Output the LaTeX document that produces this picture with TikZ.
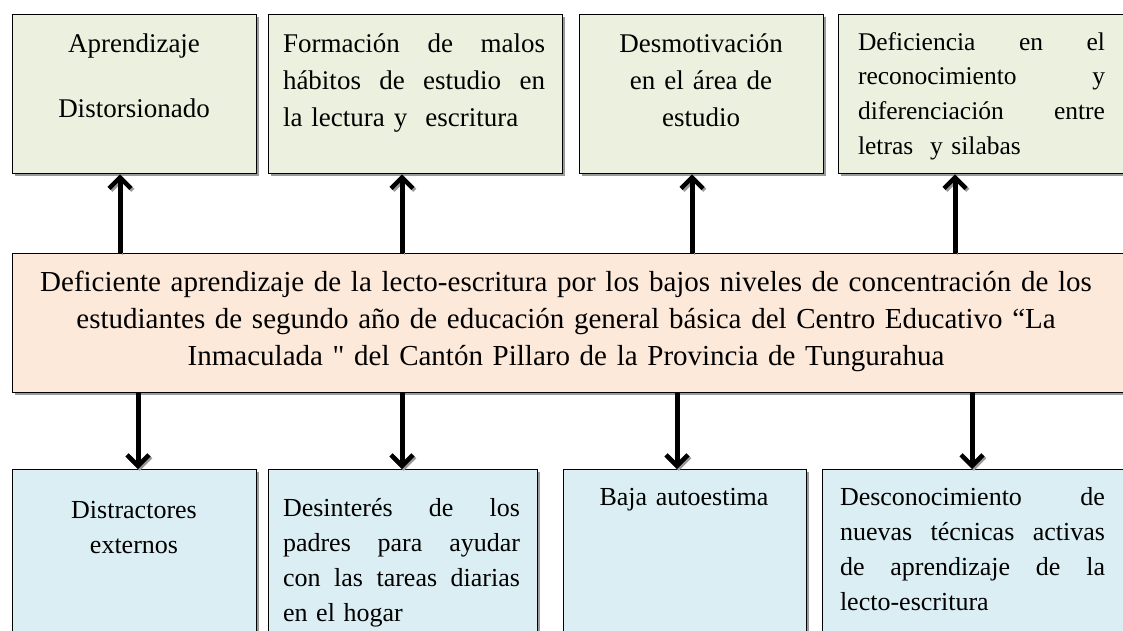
\documentclass[tikz,border=0pt]{standalone}
\usepackage{fontspec}
\setmainfont{Liberation Serif}[Ligatures=TeXOff]
\usetikzlibrary{arrows.meta,shadows}
\definecolor{topfill}{HTML}{EBF1DE}
\definecolor{midfill}{HTML}{FDE9D9}
\definecolor{botfill}{HTML}{DBEEF3}
\definecolor{shadowgray}{HTML}{9A9A9A}
\tikzset{
  boxbase/.style={draw=black, line width=1.3pt, rectangle, anchor=north west, inner sep=0pt,
    drop shadow={shadow xshift=2.5pt, shadow yshift=-2.5pt, fill=shadowgray, opacity=1}},
  topbox/.style={boxbase, fill=topfill, minimum height=159pt},
  midbox/.style={boxbase, fill=midfill, minimum height=139pt},
  botbox/.style={boxbase, fill=botfill, minimum height=175pt},
  txt/.style={inner sep=0pt, anchor=base},
  topfont/.style={font=\fontsize{27}{37}\selectfont},
  botfont/.style={font=\fontsize{26}{35}\selectfont},
  arr/.style={line width=5pt, -{Straight Barb[length=11pt, width=22pt, line width=4.5pt]},
    preaction={draw=shadowgray, transform canvas={shift={(1.8pt,-1.8pt)}}}}
}
\newcommand{\jl}[2]{\leavevmode\hbox to #1{#2}}
\begin{document}
\begin{tikzpicture}[x=1pt,y=-1pt]
\useasboundingbox (0,0) rectangle (1123,630);
\clip (0,0) rectangle (1123,630);
\fill[white] (0,0) rectangle (1123,630);
% top boxes
\node[topbox, minimum width=244pt] (t1) at (12,14) {};
\node[topbox, minimum width=294pt] (t2) at (268,14) {};
\node[topbox, minimum width=244pt] (t3) at (579,14) {};
\node[topbox, minimum width=295pt] (t4) at (838,14) {};
% central box
\node[midbox, minimum width=1120pt] (c) at (12,253) {};
% bottom boxes
\node[botbox, minimum width=244pt] (b1) at (12,469) {};
\node[botbox, minimum width=269pt] (b2) at (268,469) {};
\node[botbox, minimum width=243pt] (b3) at (563,469) {};
\node[botbox, minimum width=310pt] (b4) at (822,469) {};
% texts top
\node[txt, topfont, text width=230pt, align=center] (t1t) at (134,52) {Aprendizaje\\[28pt]Distorsionado};
\node[txt, topfont, text width=262pt, align=left] (t2t) at (414,52)
  {\jl{262pt}{Formación\hfill de\hfill malos}\\\jl{262pt}{hábitos\hfill de\hfill estudio\hfill en}\\la lectura y\ \ escritura};
\node[txt, topfont, text width=230pt, align=center] (t3t) at (701,52) {Desmotivación\\en el área de\\estudio};
\node[txt, font=\fontsize{25.5}{34.7}\selectfont, text width=247pt, align=left] (t4t) at (981.5,50)
  {\jl{247pt}{Deficiencia\hfill en\hfill el}\\\jl{247pt}{reconocimiento\hfill y}\\\jl{247pt}{diferenciación\hfill entre}\\letras\ \ y silabas};
% central text
\node[txt, font=\fontsize{29}{37}\selectfont, text width=1100pt, align=center] (ct) at (566,291)
  {Deficiente aprendizaje de la lecto-escritura por los bajos niveles de concentración de los\\estudiantes de segundo año de educación general básica del Centro Educativo “La\\Inmaculada " del Cantón Pillaro de la Provincia de Tungurahua};
% bottom texts
\node[txt, botfont, text width=230pt, align=center] (b1t) at (134,518) {Distractores\\externos};
\node[txt, botfont, text width=237pt, align=left] (b2t) at (401.5,516)
  {\jl{237pt}{Desinterés\hfill de\hfill los}\\\jl{237pt}{padres\hfill para\hfill ayudar}\\\jl{237pt}{con\hfill las\hfill tareas\hfill diarias}\\en el hogar};
\node[txt, botfont, text width=230pt, align=center] (b3t) at (684,505) {Baja autoestima};
\node[txt, botfont, text width=265pt, align=left] (b4t) at (972.5,505)
  {\jl{265pt}{Desconocimiento\hfill de}\\\jl{265pt}{nuevas\hfill técnicas\hfill activas}\\\jl{265pt}{de\hfill aprendizaje\hfill de\hfill la}\\lecto-escritura};
% arrow x positions
\coordinate (u1) at (120,0);
\coordinate (u2) at (402,0);
\coordinate (u3) at (692,0);
\coordinate (u4) at (955,0);
\coordinate (d1) at (138,0);
\coordinate (d2) at (402,0);
\coordinate (d3) at (677,0);
\coordinate (d4) at (972,0);
% arrows up
\draw[arr] (c.north -| u1) -- (t1.south -| u1);
\draw[arr] (c.north -| u2) -- (t2.south -| u2);
\draw[arr] (c.north -| u3) -- (t3.south -| u3);
\draw[arr] (c.north -| u4) -- (t4.south -| u4);
% arrows down
\draw[arr] (c.south -| d1) -- (b1.north -| d1);
\draw[arr] (c.south -| d2) -- (b2.north -| d2);
\draw[arr] (c.south -| d3) -- (b3.north -| d3);
\draw[arr] (c.south -| d4) -- (b4.north -| d4);
\end{tikzpicture}
\end{document}
